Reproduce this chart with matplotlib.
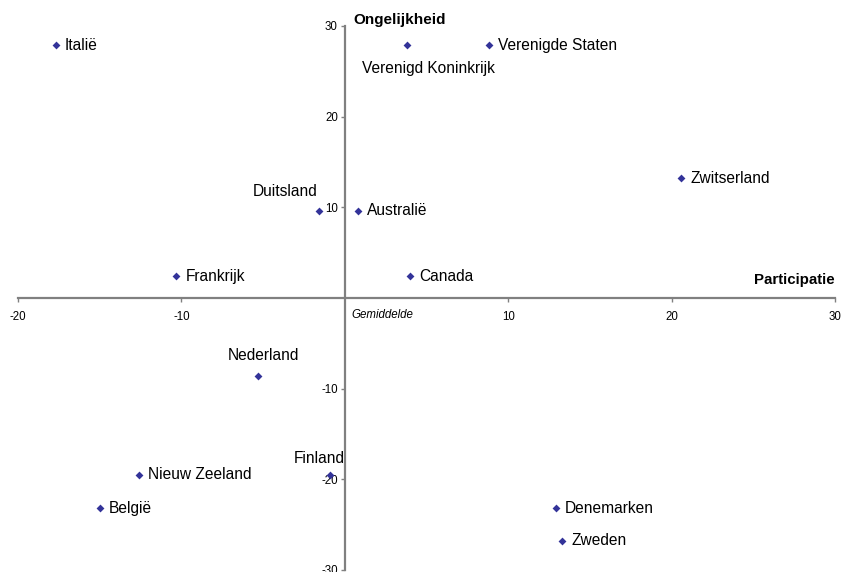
import matplotlib
matplotlib.use("Agg")
import matplotlib.pyplot as plt

plt.rcParams["axes.unicode_minus"] = False

countries = ["Italië", "Verenigd Koninkrijk", "Verenigde Staten", "Zwitserland",
             "Duitsland", "Australië", "Frankrijk", "Canada", "Nederland",
             "Nieuw Zeeland", "Finland", "België", "Denemarken", "Zweden"]
participatie = [-17.7, 3.8, 8.8, 20.6, -1.6, 0.8, -10.3, 4.0, -5.3,
                -12.6, -0.9, -15.0, 12.9, 13.3]
ongelijkheid = [27.9, 27.9, 27.9, 13.2, 9.6, 9.6, 2.4, 2.4, -8.6,
                -19.5, -19.5, -23.2, -23.2, -26.8]
x_ticks = [-20, -10, 10, 20, 30]
y_ticks = [-30, -20, -10, 10, 20, 30]

# label placement (offset in pixels, alignment)
label_pos = {
    "Verenigd Koninkrijk": ((-45, -23), "left", "center"),
    "Duitsland": ((-1, 19), "right", "center"),
    "Finland": ((15, 16), "right", "center"),
    "Nederland": ((5, 20), "center", "center"),
}

fig = plt.figure(figsize=(8.43, 5.72), dpi=100)
ax = fig.add_axes([18/843, 2/572, 817/843, 544/572])
ax.set_xlim(-20, 30)
ax.set_ylim(-30, 30)

ax.scatter(participatie, ongelijkheid, marker="D", s=16, color="#333399",
           zorder=3, linewidths=0)

for name, x, y in zip(countries, participatie, ongelijkheid):
    off, ha, va = label_pos.get(name, ((9, 0), "left", "center"))
    ax.annotate(name, (x, y), xytext=off, textcoords="offset pixels",
                ha=ha, va=va, fontsize=11.2, family="Liberation Sans", color="black")

for s in ["top", "right"]:
    ax.spines[s].set_visible(False)
ax.spines["left"].set_position(("data", 0))
ax.spines["bottom"].set_position(("data", 0))
for s in ["left", "bottom"]:
    ax.spines[s].set_color("#808080")
    ax.spines[s].set_linewidth(1.6)

ax.set_xticks(x_ticks)
ax.set_yticks(y_ticks)
ax.tick_params(axis="x", direction="out", length=3, width=1, color="#808080",
               labelsize=8.3, pad=6)
ax.tick_params(axis="y", direction="out", length=3, width=1, color="#808080",
               labelsize=8.3, pad=2)
for lab in ax.get_xticklabels() + ax.get_yticklabels():
    lab.set_family("Liberation Sans")

ax.text(0.55, 30.7, "Ongelijkheid", fontsize=11, fontweight="bold",
        family="Liberation Sans", ha="left", va="center", clip_on=False)
ax.text(30, 1.2, "Participatie", fontsize=10.8, fontweight="bold",
        family="Liberation Sans", ha="right", va="bottom")
ax.text(0.4, -1.2, "Gemiddelde", fontsize=8.3, style="italic",
        family="Liberation Sans", ha="left", va="top")

fig.savefig("out.png", dpi=100)
